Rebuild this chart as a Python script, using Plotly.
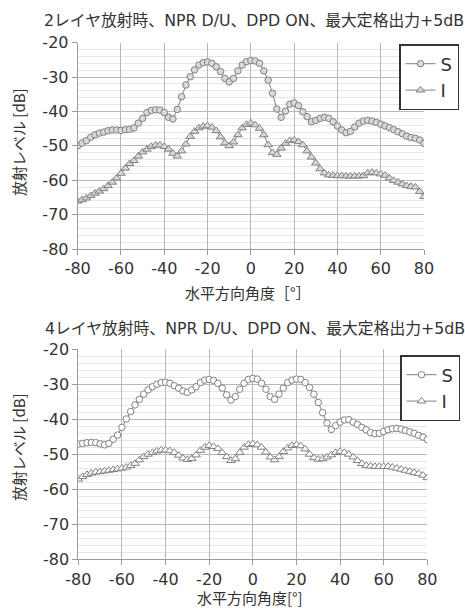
import plotly.graph_objects as go

angles = list(range(-80, 81, 2))

s_2layer = [-50.0, -49.2, -48.5, -47.5, -46.8, -46.3, -46.0, -45.6, -45.4, -45.4,
            -45.5, -45.3, -45.2, -44.8, -43.4, -42.0, -40.3, -39.7, -39.5, -39.6,
            -40.3, -41.7, -42.2, -39.4, -35.7, -32.3, -29.9, -27.9, -26.5, -25.8,
            -25.6, -26.0, -27.0, -28.4, -30.4, -31.4, -30.4, -28.2, -26.5, -25.5,
            -25.2, -25.3, -26.0, -28.2, -30.9, -34.7, -39.3, -41.7, -39.9, -37.9,
            -37.5, -38.3, -40.1, -41.5, -43.0, -42.6, -42.0, -41.7, -42.0, -43.0,
            -44.2, -45.4, -46.2, -45.8, -44.5, -43.4, -42.8, -42.6, -42.8, -43.2,
            -43.7, -44.2, -44.7, -45.3, -45.9, -46.5, -47.2, -47.6, -47.8, -48.3,
            -49.3]
i_2layer = [-66.1, -65.7, -65.2, -64.5, -63.8, -63.2, -62.5, -61.6, -60.6, -59.4,
            -58.0, -56.5, -55.2, -54.3, -53.0, -51.8, -51.0, -50.2, -49.8, -49.8,
            -50.2, -51.0, -52.2, -53.0, -51.5, -49.5, -47.3, -45.8, -44.8, -44.3,
            -44.2, -44.6, -45.6, -47.4, -49.2, -50.0, -48.9, -46.8, -44.8, -43.8,
            -43.4, -43.9, -44.9, -46.8, -49.7, -52.0, -52.5, -50.7, -49.3, -48.5,
            -48.3, -48.8, -49.7, -51.5, -53.3, -55.0, -56.7, -57.9, -58.5, -58.6,
            -58.7, -58.7, -58.8, -58.8, -58.8, -58.8, -58.7, -57.9, -57.7, -57.9,
            -58.2, -58.6, -59.4, -60.1, -60.6, -61.1, -61.6, -61.8, -62.0, -63.3,
            -64.8]
s_4layer = [-47.1, -46.9, -46.7, -46.6, -46.7, -47.0, -47.3, -46.9, -45.7, -44.5,
            -42.3, -39.9, -37.8, -35.9, -34.3, -32.8, -31.6, -30.7, -30.0, -29.5,
            -29.4, -29.7, -30.4, -31.1, -31.9, -32.3, -31.6, -30.7, -29.5, -28.8,
            -28.6, -28.9, -29.7, -31.1, -33.0, -34.5, -33.5, -31.4, -29.7, -28.6,
            -28.3, -28.5, -29.7, -31.4, -33.5, -34.3, -32.8, -31.1, -29.5, -28.8,
            -28.5, -28.6, -29.5, -30.9, -32.8, -35.2, -38.1, -41.1, -42.9, -41.8,
            -40.8, -40.2, -40.1, -40.8, -41.5, -42.3, -43.0, -43.8, -44.1, -44.0,
            -43.5, -43.0, -42.7, -42.6, -42.8, -43.2, -43.6, -44.0, -44.6, -45.1,
            -45.8]
i_4layer = [-57.1, -56.4, -55.8, -55.4, -55.1, -55.0, -54.8, -54.6, -54.4, -54.2,
            -54.0, -53.7, -53.2, -52.6, -51.6, -50.7, -50.0, -49.5, -49.1, -48.8,
            -48.8, -49.0, -49.5, -50.3, -51.1, -51.5, -51.2, -50.2, -48.9, -48.0,
            -47.5, -47.8, -48.4, -49.5, -50.7, -51.8, -51.3, -49.5, -48.0, -47.2,
            -47.0, -47.3, -48.0, -49.4, -50.8, -51.6, -50.7, -49.2, -48.2, -47.5,
            -47.3, -47.6, -48.5, -50.0, -51.0, -51.4, -51.3, -50.8, -50.2, -49.5,
            -49.2, -49.5, -50.0, -50.8, -51.8, -52.7, -53.2, -53.4, -53.5, -53.5,
            -53.5, -53.5, -53.7, -54.0, -54.3, -54.6, -54.9, -55.2, -55.5, -56.0,
            -56.7]

titles = ["2レイヤ放射時、NPR D/U、DPD ON、最大定格出力+5dB",
          "4レイヤ放射時、NPR D/U、DPD ON、最大定格出力+5dB"]
xtitles = ["水平方向角度［°］", "水平方向角度[°]"]
ytitle = "放射レベル [dB]"
x_ticks = [-80, -60, -40, -20, 0, 20, 40, 60, 80]
x_ticktext = ["-80", "-60", "-40", "-20", "0", "20", "40", "60", "80"]
y_ticks = [-80, -70, -60, -50, -40, -30, -20]
y_ticktext = ["-80", "-70", "-60", "-50", "-40", "-30", "-20"]

FONT = "DejaVu Sans, Noto Sans CJK JP, sans-serif"
CJK = "Noto Sans CJK JP, sans-serif"
TXT = "#333333"
LINE = "#808080"

W, H = 465, 608
fig = go.Figure()

def add_pair(s, i, fill, xa, ya, leg):
    fig.add_trace(go.Scatter(x=angles, y=s, name="S", mode="lines+markers",
                             line=dict(color=LINE, width=1),
                             marker=dict(symbol="circle", size=6.5, color=fill,
                                         line=dict(color=LINE, width=1)),
                             xaxis=xa, yaxis=ya, showlegend=True, legend=leg))
    fig.add_trace(go.Scatter(x=angles, y=i, name="I", mode="lines+markers",
                             line=dict(color=LINE, width=1),
                             marker=dict(symbol="triangle-up", size=7.5, color=fill,
                                         line=dict(color=LINE, width=1)),
                             xaxis=xa, yaxis=ya, showlegend=True, legend=leg))

add_pair(s_2layer, i_2layer, "#d9d9d9", "x", "y", "legend")
add_pair(s_4layer, i_4layer, "#ffffff", "x2", "y2", "legend2")

# plot area pixel boxes
top = dict(x0=77.7, x1=424.0, y0=42.7, y1=249.0)
bot = dict(x0=78.3, x1=427.3, y0=349.3, y1=559.3)

def xdom(b):
    return [b["x0"] / W, b["x1"] / W]

def ydom(b):
    return [1 - b["y1"] / H, 1 - b["y0"] / H]

xcommon = dict(range=[-80, 80], tickvals=x_ticks, ticktext=x_ticktext, showgrid=True,
               gridcolor="#b8b8b8", gridwidth=1, showline=True, linecolor="#9a9a9a",
               linewidth=1, ticks="outside", ticklen=5, tickcolor="#9a9a9a",
               zeroline=False, tickfont=dict(family=FONT, size=16, color=TXT),
               fixedrange=True)
ycommon = dict(range=[-80, -20], tickvals=y_ticks, ticktext=y_ticktext, showgrid=True,
               gridcolor="#b8b8b8", gridwidth=1, showline=True, linecolor="#9a9a9a",
               linewidth=1, ticks="outside", ticklen=5, tickcolor="#9a9a9a",
               zeroline=False,
               minor=dict(dtick=2, tick0=-80, showgrid=True, gridcolor="#e6e6e6", gridwidth=1),
               tickfont=dict(family=FONT, size=16, color=TXT), fixedrange=True)

legcommon = dict(xanchor="right", yanchor="top", bgcolor="white",
                 bordercolor="#333333", borderwidth=1.5,
                 font=dict(family=FONT, size=18, color=TXT), itemwidth=30,
                 tracegroupgap=0)

fig.update_layout(
    width=W, height=H, margin=dict(l=0, r=0, t=0, b=0, autoexpand=False),
    paper_bgcolor="white", plot_bgcolor="white",
    font=dict(family=FONT, color=TXT),
    xaxis=dict(domain=xdom(top), anchor="y", **xcommon),
    yaxis=dict(domain=ydom(top), anchor="x", **ycommon),
    xaxis2=dict(domain=xdom(bot), anchor="y2", **xcommon),
    yaxis2=dict(domain=ydom(bot), anchor="x2", **ycommon),
    legend=dict(x=459 / W, y=1 - 44 / H, **legcommon),
    legend2=dict(x=460 / W, y=1 - 355 / H, **legcommon),
    showlegend=True,
)

anns = [
    dict(text=titles[0], x=253.5 / W, y=1 - 20 / H, size=15.8, fam=FONT),
    dict(text=titles[1], x=254.5 / W, y=1 - 329 / H, size=15.8, fam=FONT),
    dict(text=xtitles[0], x=248 / W, y=1 - 292 / H, size=15, fam=CJK),
    dict(text=xtitles[1], x=250 / W, y=1 - 597 / H, size=15, fam=CJK),
    dict(text=ytitle, x=18 / W, y=1 - 142 / H, size=15, fam=CJK, textangle=-90),
    dict(text=ytitle, x=18 / W, y=1 - 447 / H, size=15, fam=CJK, textangle=-90),
]
for a in anns:
    size = a.pop("size")
    fam = a.pop("fam")
    fig.add_annotation(xref="paper", yref="paper", showarrow=False,
                       xanchor="center", yanchor="middle",
                       font=dict(family=fam, size=size, color=TXT), **a)

fig.write_html("out.html",
               config={"displayModeBar": False},
               post_script="document.body.style.margin='0';"
                           "document.body.style.overflow='hidden';")
